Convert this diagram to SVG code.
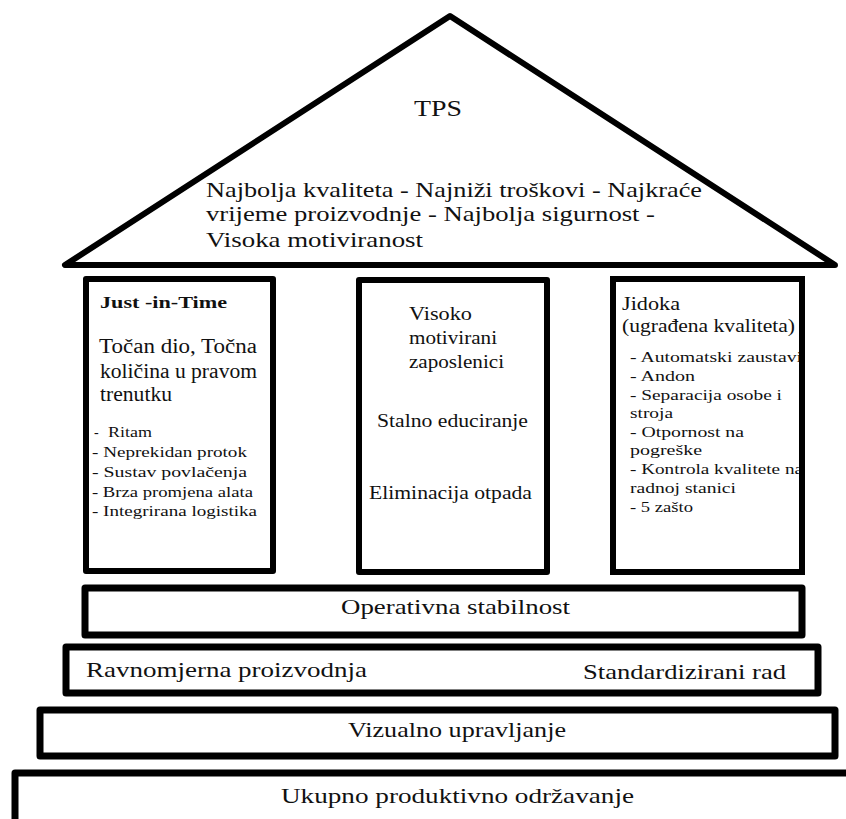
<svg xmlns="http://www.w3.org/2000/svg" width="846" height="819" viewBox="0 0 846 819">
<style>
.s{fill:#fff;stroke:#000;stroke-linejoin:round}
.t{font-family:"Liberation Serif","Times New Roman",serif;fill:#111}
.b{font-weight:bold}
</style>
<rect width="846" height="819" fill="#fff"/>
<g id="roof">
<polygon class="s" stroke-width="6" points="450,16 65,265 835,265"/>
<text class="t" x="414" y="116" font-size="23" textLength="48" lengthAdjust="spacingAndGlyphs">TPS</text>
<text class="t" x="206" y="197" font-size="21" textLength="496" lengthAdjust="spacingAndGlyphs">Najbolja kvaliteta - Najniži troškovi - Najkraće</text>
<text class="t" x="206" y="221" font-size="21" textLength="449" lengthAdjust="spacingAndGlyphs">vrijeme proizvodnje - Najbolja sigurnost -</text>
<text class="t" x="206" y="247" font-size="21" textLength="217" lengthAdjust="spacingAndGlyphs">Visoka motiviranost</text>
</g>
<g id="pillar-jit">
<rect class="s" stroke-width="6" x="86" y="279" width="187" height="292"/>
<text class="t b" x="100" y="308" font-size="16" textLength="127" lengthAdjust="spacingAndGlyphs">Just -in-Time</text>
<text class="t" x="99" y="353" font-size="20" textLength="158" lengthAdjust="spacingAndGlyphs">Točan dio, Točna</text>
<text class="t" x="100" y="378" font-size="20" textLength="157" lengthAdjust="spacingAndGlyphs">količina u pravom</text>
<text class="t" x="100" y="401" font-size="20" textLength="72" lengthAdjust="spacingAndGlyphs">trenutku</text>
<text class="t" x="94" y="437" font-size="14">-</text>
<text class="t" x="108" y="437" font-size="14" textLength="44" lengthAdjust="spacingAndGlyphs">Ritam</text>
<text class="t" x="92" y="457" font-size="14" textLength="155" lengthAdjust="spacingAndGlyphs">- Neprekidan protok</text>
<text class="t" x="92" y="477" font-size="14" textLength="155" lengthAdjust="spacingAndGlyphs">- Sustav povlačenja</text>
<text class="t" x="92" y="497" font-size="14" textLength="161" lengthAdjust="spacingAndGlyphs">- Brza promjena alata</text>
<text class="t" x="92" y="516" font-size="14" textLength="165" lengthAdjust="spacingAndGlyphs">- Integrirana logistika</text>
</g>
<g id="pillar-people">
<rect class="s" stroke-width="6" x="359" y="280" width="188" height="292"/>
<text class="t" x="409" y="320" font-size="19" textLength="63" lengthAdjust="spacingAndGlyphs">Visoko</text>
<text class="t" x="409" y="344" font-size="19" textLength="88" lengthAdjust="spacingAndGlyphs">motivirani</text>
<text class="t" x="409" y="368" font-size="19" textLength="95" lengthAdjust="spacingAndGlyphs">zaposlenici</text>
<text class="t" x="377" y="427" font-size="19" textLength="151" lengthAdjust="spacingAndGlyphs">Stalno educiranje</text>
<text class="t" x="369" y="499" font-size="19" textLength="163" lengthAdjust="spacingAndGlyphs">Eliminacija otpada</text>
</g>
<g id="pillar-jidoka">
<rect fill="#fff" x="613" y="279" width="189" height="293"/>
<text class="t" x="622" y="310" font-size="18" textLength="58" lengthAdjust="spacingAndGlyphs">Jidoka</text>
<text class="t" x="622" y="332" font-size="18" textLength="173" lengthAdjust="spacingAndGlyphs">(ugrađena kvaliteta)</text>
<text class="t" x="630" y="362" font-size="14" textLength="172" lengthAdjust="spacingAndGlyphs">- Automatski zaustavi</text>
<text class="t" x="630" y="381" font-size="14" textLength="65" lengthAdjust="spacingAndGlyphs">- Andon</text>
<text class="t" x="630" y="400" font-size="14" textLength="152" lengthAdjust="spacingAndGlyphs">- Separacija osobe i</text>
<text class="t" x="630" y="418" font-size="14" textLength="43" lengthAdjust="spacingAndGlyphs">stroja</text>
<text class="t" x="630" y="437" font-size="14" textLength="114" lengthAdjust="spacingAndGlyphs">- Otpornost na</text>
<text class="t" x="630" y="455" font-size="14" textLength="72" lengthAdjust="spacingAndGlyphs">pogreške</text>
<text class="t" x="630" y="474" font-size="14" textLength="173" lengthAdjust="spacingAndGlyphs">- Kontrola kvalitete na</text>
<text class="t" x="630" y="493" font-size="14" textLength="106" lengthAdjust="spacingAndGlyphs">radnoj stanici</text>
<text class="t" x="630" y="512" font-size="14" textLength="63" lengthAdjust="spacingAndGlyphs">- 5 zašto</text>
<rect fill="none" stroke="#000" stroke-width="6" x="613" y="279" width="189" height="293"/>
</g>
<g id="operativna">
<rect class="s" stroke-width="7" x="85" y="588" width="717" height="47"/>
<text class="t" x="341" y="614" font-size="21" textLength="229" lengthAdjust="spacingAndGlyphs">Operativna stabilnost</text>
</g>
<g id="ravnomjerna">
<rect class="s" stroke-width="7" x="66" y="647" width="752" height="46"/>
<text class="t" x="86" y="677" font-size="21" textLength="281" lengthAdjust="spacingAndGlyphs">Ravnomjerna proizvodnja</text>
<text class="t" x="583" y="679" font-size="21" textLength="203" lengthAdjust="spacingAndGlyphs">Standardizirani rad</text>
</g>
<g id="vizualno">
<rect class="s" stroke-width="7" x="40" y="710" width="795" height="46"/>
<text class="t" x="348" y="737" font-size="21" textLength="218" lengthAdjust="spacingAndGlyphs">Vizualno upravljanje</text>
</g>
<g id="ukupno">
<rect class="s" stroke-width="7" x="15" y="773" width="850" height="60"/>
<text class="t" x="281" y="803" font-size="21" textLength="353" lengthAdjust="spacingAndGlyphs">Ukupno produktivno održavanje</text>
</g>
<g id="connectors"></g>
</svg>
